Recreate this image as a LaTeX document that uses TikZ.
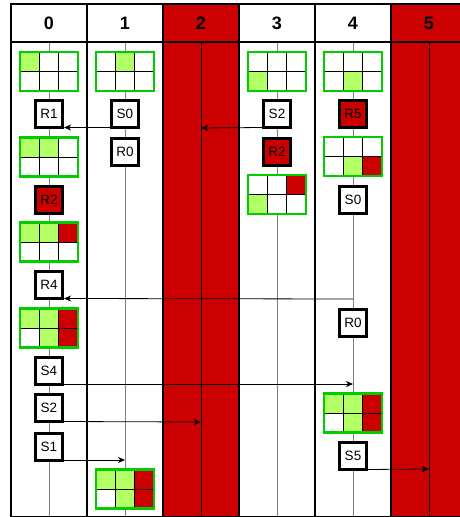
\documentclass[tikz,border=0pt]{standalone}
\usepackage{fontspec}
\setmainfont{Liberation Sans}
\usetikzlibrary{arrows.meta}
\definecolor{slotRed}{HTML}{CC0000}
\definecolor{slotGreen}{HTML}{00CC00}
\definecolor{slotLime}{HTML}{B3FF66}
\definecolor{slotGrey}{HTML}{808080}

% grid of 3x2 cells: name, centre, six fills (top row first)
\newcommand{\slotgrid}[8]{%
  \begin{scope}[shift={(#2)}]
    \foreach \fc [count=\k from 0] in {#3,#4,#5,#6,#7,#8}{
      \pgfmathtruncatemacro\cx{mod(\k,3)}
      \pgfmathtruncatemacro\cy{div(\k,3)}
      \draw[cell,fill=\fc] (\cx*19.33-29,\cy*19.5-19.5) rectangle ++(19.33,19.5);
    }
  \end{scope}
  \node[gridbox] (#1) at (#2) {};
}

\begin{document}
\begin{tikzpicture}[x=1pt,y=-1pt,>={Stealth[length=7pt,width=6pt,inset=2pt]}]
\useasboundingbox (0,0) rectangle (459,517);
\tikzset{colframe/.style={draw=black,line width=2pt},
  lifeline/.style={line width=1pt},
  cell/.style={draw=black,line width=0.8pt},
  gridbox/.style={draw=slotGreen,line width=2.6pt,minimum width=58pt,minimum height=39pt,inner sep=0pt},
  procbox/.style={draw=black,fill=white,line width=3pt,minimum size=27pt,inner sep=0pt,font=\fontsize{13.5}{15}\selectfont},
  redbox/.style={procbox,fill=slotRed},
  headtext/.style={font=\fontsize{18}{20}\selectfont\bfseries},
  msg/.style={->,draw=black,line width=0.8pt}}

% columns
\foreach \i/\fc in {0/white,1/white,2/slotRed,3/white,4/white,5/slotRed}{
  \path[fill=\fc] (11+76*\i,4) rectangle (87+76*\i,517);
}
\foreach \i/\lc in {0/slotGrey,1/slotGrey,2/black,3/slotGrey,4/slotGrey,5/black}{
  \draw[lifeline,draw=\lc] (49+76*\i,42) -- (49+76*\i,517);
}
\foreach \i in {0,...,5}{
  \draw[colframe] (11+76*\i,4) rectangle (87+76*\i,517);
  \draw[colframe] (11+76*\i,42) -- (87+76*\i,42);
  \node[headtext] (h\i) at (49+76*\i,23) {\i};
}

% column 0
\slotgrid{g0a}{49,71.5}{slotLime}{white}{white}{white}{white}{white}
\node[procbox] (r1) at (49,114) {R1};
\slotgrid{g0b}{49,157}{slotLime}{slotLime}{white}{white}{white}{white}
\node[redbox] (r2a) at (49,200) {R2};
\slotgrid{g0c}{49,242}{slotLime}{slotLime}{slotRed}{white}{white}{white}
\node[procbox] (r4) at (49,285) {R4};
\slotgrid{g0d}{49,328}{slotLime}{slotLime}{slotRed}{white}{slotLime}{slotRed}
\node[procbox] (s4) at (49,370.5) {S4};
\node[procbox] (s2a) at (49,408) {S2};
\node[procbox] (s1) at (49,446.5) {S1};

% column 1
\slotgrid{g1a}{125,71.5}{white}{slotLime}{white}{white}{white}{white}
\node[procbox] (s0a) at (125,114) {S0};
\node[procbox] (r0a) at (125,152) {R0};
\slotgrid{g1b}{125,489}{slotLime}{slotLime}{slotRed}{white}{slotLime}{slotRed}

% column 3
\slotgrid{g3a}{277,71.5}{white}{white}{white}{slotLime}{white}{white}
\node[procbox] (s2b) at (277,114) {S2};
\node[redbox] (r2b) at (277,152) {R2};
\slotgrid{g3b}{277,194.5}{white}{white}{slotRed}{slotLime}{white}{white}

% column 4
\slotgrid{g4a}{353,71.5}{white}{white}{white}{white}{slotLime}{white}
\node[redbox] (r5) at (353,114) {R5};
\slotgrid{g4b}{353,156.5}{white}{white}{white}{white}{slotLime}{slotRed}
\node[procbox] (s0b) at (353,200) {S0};
\node[procbox] (r0b) at (353,322.5) {R0};
\slotgrid{g4c}{353,413}{slotLime}{slotLime}{slotRed}{white}{slotLime}{slotRed}
\node[procbox] (s5) at (353,456) {S5};

% messages
\coordinate (l2a) at (201,128);
\coordinate (l4a) at (353,299);
\coordinate (l4b) at (353,384);
\coordinate (l2b) at (201,422);
\coordinate (l1a) at (125,460);
\coordinate (l5a) at (429,469);
\draw[msg] ([yshift=1.5pt]s0a.south west) -- ([yshift=1.5pt]r1.south east);
\draw[msg] ([yshift=1.5pt]s2b.south west) -- (l2a);
\draw[msg] (l4a) -- ([yshift=1.5pt]r4.south east);
\draw[msg] ([yshift=1.5pt]s4.south east) -- (l4b);
\draw[msg] ([yshift=1.5pt]s2a.south east) -- (l2b);
\draw[msg] ([yshift=1.5pt]s1.south east) -- (l1a);
\draw[msg] ([yshift=1.5pt]s5.south east) -- (l5a);
\end{tikzpicture}
\end{document}
